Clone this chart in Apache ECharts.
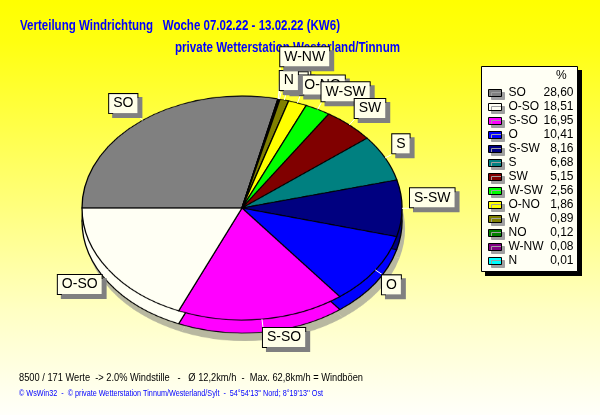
<!DOCTYPE html>
<html><head><meta charset="utf-8">
<script src="https://cdn.jsdelivr.net/npm/echarts@6/dist/echarts.min.js"></script>
<style>
html,body{margin:0;padding:0;background:#fff;}
#wrap{position:relative;width:600px;height:415px;overflow:hidden;}
#bg,#pie,#top{position:absolute;left:0;top:0;width:600px;height:415px;}
#pie{transform:scaleY(0.7);transform-origin:242px 208px;}
</style></head><body>
<div id="wrap"><div id="bg"></div><div id="pie"></div><div id="top"></div></div>
<script>
// ---- data ----
const directions = ['SO','N','W-NW','NO','W','O-NO','W-SW','SW','S','S-SW','O','S-SO','O-SO'];
const percents   = [28.60, 0.01, 0.08, 0.12, 0.89, 1.86, 2.56, 5.15, 6.68, 8.16, 10.41, 16.95, 18.51];
const legendOrder = ['SO','O-SO','S-SO','O','S-SW','S','SW','W-SW','O-NO','W','NO','W-NW','N'];
const titleText = 'Verteilung Windrichtung   Woche 07.02.22 - 13.02.22 (KW6)';
const subtitleText = 'private Wetterstation Westerland/Tinnum';
const statsText = '8500 / 171 Werte  -> 2.0% Windstille   -   Ø 12,2km/h  -  Max. 62,8km/h = Windböen';
const footerText = "© WsWin32  -  © private Wetterstation Tinnum/Westerland/Sylt  -  54°54'13'' Nord; 8°19'13'' Ost";
const legendHeader = '%';

// ---- styles ----
const palette = {'SO':'#808080','O-SO':'#fffff4','S-SO':'#ff00ff','O':'#0000ff','S-SW':'#000080','S':'#008080',
  'SW':'#800000','W-SW':'#00ff00','O-NO':'#ffff00','W':'#808000','NO':'#008000','W-NW':'#800080','N':'#00ffff'};
const backLabels = ['NO','W','O-NO'];
const FONT = '"Liberation Sans", Arial, sans-serif';
const CX = 242, CY = 208, R = 160, K = 0.7, DEPTH = 13, GAP = 8;

function fitScale(text, font, w){
  const ctx = document.createElement('canvas').getContext('2d');
  ctx.font = font; return w / ctx.measureText(text).width;
}
function txt(text, x, y, font, w, fill){
  return {type:'text', x:x, y:y, scaleX: fitScale(text, font, w), silent:true,
    style:{text:text, font:font, fill:fill, verticalAlign:'middle', align:'left'}};
}
const fmt = v => v.toFixed(2).replace('.', ',');

// ---- background layer ----
const bgChart = echarts.init(document.getElementById('bg'));
bgChart.setOption({
  animation:false,
  backgroundColor:{type:'linear',x:0,y:0,x2:0,y2:1,colorStops:[
    {offset:0,color:'#ffff00'},{offset:0.1,color:'#ffff10'},{offset:0.48,color:'#ffff78'},
    {offset:0.75,color:'#ffffc4'},{offset:1,color:'#fffffa'}]},
  graphic:[
    txt(titleText, 20, 26, 'bold 15px ' + FONT, 320, '#0000ff'),
    txt(subtitleText, 175, 48, 'bold 15px ' + FONT, 225, '#0000ff'),
    txt(statsText, 19, 378, '11px ' + FONT, 344, '#000000'),
    txt(footerText, 19, 394, '9px ' + FONT, 304, '#0000ff'),
    {type:'rect', shape:{x:485,y:70,width:97,height:206}, silent:true, style:{fill:'#000'}},
    {type:'rect', shape:{x:481.5,y:66.5,width:96,height:205}, silent:true,
     style:{fill:'#fffff4', stroke:'#000', lineWidth:1}},
    {type:'text', x:556, y:76, silent:true, style:{text:legendHeader, font:'12px ' + FONT, fill:'#000', verticalAlign:'middle'}}
  ]
});

// ---- pie layer (vertically squashed to an ellipse) ----
const pieData = directions.map((d,i) => ({name:d, value:percents[i], itemStyle:{color:palette[d]}}));
const basePie = {type:'pie', startAngle:180, clockwise:true, radius:[0,R], silent:true, animation:false,
  label:{show:false}, labelLine:{show:false}};
const pieChart = echarts.init(document.getElementById('pie'));
pieChart.setOption({
  animation:false,
  series:[
    Object.assign({}, basePie, {center:[CX+3, CY+(DEPTH+8)/K], data:pieData.map(p=>({name:p.name,value:p.value,itemStyle:{color:'#b8b8a0'}}))}),
    Object.assign({}, basePie, {center:[CX, CY+DEPTH/K], itemStyle:{borderColor:'#000',borderWidth:1.3}, data:pieData}),
    Object.assign({}, basePie, {center:[CX, CY], itemStyle:{borderColor:'#000',borderWidth:1.3}, data:pieData})
  ]
});

// ---- label + legend layer ----
const placed = {};
function layoutLabel(p){
  const pts = p.labelLinePoints;
  if (!pts) return {};
  const e = pts[0];
  const c = (e[0]-CX)/R, s = (e[1]-CY)/R;
  const ex = e[0], ey = CY + K*(e[1]-CY);
  const px = ex + GAP*c, py = ey + GAP*s;
  const w = p.labelRect.width, h = p.labelRect.height;
  let bx = c >= 0 ? px : px - w;
  let by = s > 0.05 ? py : py - h;
  if (p.seriesIndex === 1) {
    const hits = (yy) => Object.keys(placed).some(k => +k < p.dataIndex &&
      bx < placed[k].x + placed[k].w && bx + w > placed[k].x && yy < placed[k].y + placed[k].h && yy + h > placed[k].y);
    if (hits(by)) { const up = by - (h + 3); if (!hits(up)) by = up; }
    placed[p.dataIndex] = {x:bx, y:by, w:w, h:h};
  }
  const cornerX = c >= 0 ? bx : bx + w;
  const cornerY = s > 0.05 ? by : by + h;
  const lx = p.align === 'right' ? bx + w : (p.align === 'center' ? bx + w/2 : bx);
  return {x:lx, y:by + h/2, labelLinePoints:[[ex,ey],[cornerX,cornerY],[cornerX,cornerY]]};
}
const labelStyle = {formatter:'{b}', color:'#000', fontFamily:FONT, fontSize:14, lineHeight:15,
  backgroundColor:'#ffffe8', borderColor:'#000', borderWidth:1, padding:[2,4,2,4],
  shadowColor:'#808080', shadowOffsetX:4, shadowOffsetY:4, shadowBlur:0};
function labelSeries(front, z){
  return {type:'pie', z:z, startAngle:180, clockwise:true, radius:[0,R], center:[CX,CY], silent:true,
    animation:false, avoidLabelOverlap:false,
    itemStyle:{color:'rgba(0,0,0,0)'},
    label:Object.assign({show:true}, labelStyle),
    labelLine:{show:true, length:8, length2:2, lineStyle:{color:'#ffffff', width:1}},
    labelLayout: layoutLabel,
    data: directions.map((d,i) => {
      const show = (backLabels.indexOf(d) >= 0) !== front;
      return {name:d, value:percents[i], itemStyle:{color:'rgba(0,0,0,0)'}, label:{show:show}, labelLine:{show:show}};
    })
  };
}
const topChart = echarts.init(document.getElementById('top'));
topChart.setOption({
  animation:false,
  legend:{orient:'vertical', left:488, top:87, padding:0, itemWidth:13, itemHeight:7, itemGap:2, icon:'rect',
    selectedMode:false,
    itemStyle:{borderColor:'#000', borderWidth:1, shadowColor:'#a0a0a0', shadowOffsetX:3, shadowOffsetY:3, shadowBlur:0, opacity:1},
    data: legendOrder.map(n => ({name:n, itemStyle:{color:palette[n]}})),
    formatter: n => '{n|' + n + '}{v|' + fmt(percents[directions.indexOf(n)]) + '}',
    textStyle:{lineHeight:12, rich:{
      n:{width:38, padding:[0,0,0,2], fontSize:12, lineHeight:12, fontFamily:FONT, color:'#000'},
      v:{width:27, align:'right', fontSize:12, lineHeight:12, fontFamily:FONT, color:'#000'}}}
  },
  series:[labelSeries(false, 2), labelSeries(true, 3)]
});
</script>
</body></html>
